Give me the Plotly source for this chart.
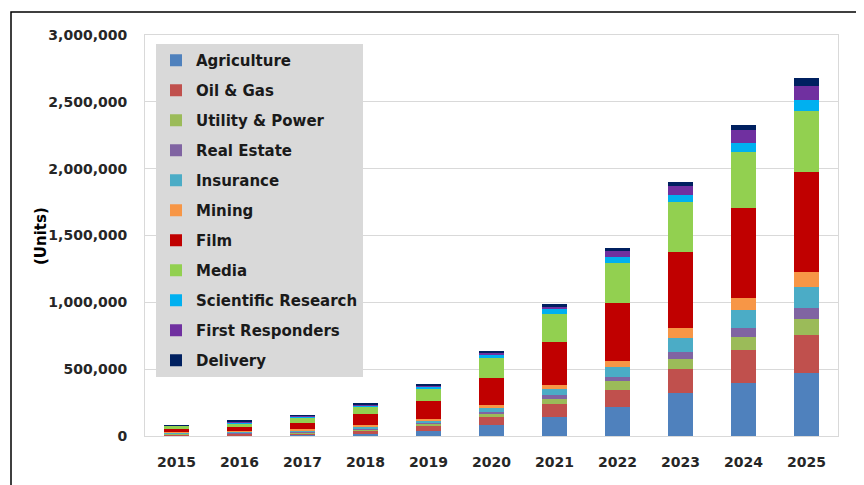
import plotly.graph_objects as go

years = ["2015", "2016", "2017", "2018", "2019", "2020", "2021", "2022", "2023", "2024", "2025"]

# values in thousands of units
agriculture = [3, 5, 8, 18, 40, 85, 142, 215, 319, 399, 469]
oil_gas = [10, 12, 14, 20, 35, 55, 95, 129, 180, 245, 284]
utility_power = [4, 5, 7, 10, 15, 25, 43, 67, 77, 100, 124]
real_estate = [2, 3, 5, 8, 10, 15, 25, 32, 55, 67, 78]
insurance = [4, 5, 8, 14, 18, 30, 50, 75, 105, 132, 162]
mining = [5, 7, 8, 12, 12, 20, 25, 45, 75, 88, 112]
film = [22, 28, 45, 82, 130, 207, 324, 434, 564, 673, 744]
media = [25, 30, 40, 55, 95, 145, 207, 299, 374, 419, 461]
scientific_research = [3, 6, 8, 10, 12, 22, 37, 45, 55, 72, 80]
first_responders = [2, 6, 7, 10, 12, 18, 20, 45, 70, 95, 107]
delivery = [2, 8, 7, 10, 10, 14, 22, 18, 30, 35, 55]

series_names = ["Agriculture", "Oil & Gas", "Utility & Power", "Real Estate", "Insurance",
                "Mining", "Film", "Media", "Scientific Research", "First Responders", "Delivery"]
series_values = [agriculture, oil_gas, utility_power, real_estate, insurance,
                 mining, film, media, scientific_research, first_responders, delivery]
series_colors = ["#4F81BD", "#C0504D", "#9BBB59", "#8064A2", "#4BACC6",
                 "#F79646", "#C00000", "#92D050", "#00B0F0", "#7030A0", "#002060"]

y_ticks = [0, 500000, 1000000, 1500000, 2000000, 2500000, 3000000]

FONT = "DejaVu Sans, Verdana, sans-serif"

fig = go.Figure()
for name, vals, col in zip(series_names, series_values, series_colors):
    fig.add_trace(go.Bar(
        x=years, y=[v * 1000 for v in vals], name=name,
        marker=dict(color=col, line=dict(width=0)),
        legendgroup=name,
    ))

# page has an 8px body margin; figure is sized so the plot area lands at page x 145-838, y 35-436
OFF = 8
W, H = 856, 477
L, R, T, B = 137, 26, 27, 49
pw = W - L - R
ph = H - T - B

def px_x(page_x):
    return (page_x - OFF - L) / pw

def px_y(page_y):
    return 1 - (page_y - OFF - T) / ph

fig.update_layout(
    width=W, height=H,
    margin=dict(l=L, r=R, t=T, b=B, autoexpand=False),
    barmode="stack",
    bargap=0.6,
    paper_bgcolor="white",
    plot_bgcolor="white",
    font=dict(family=FONT, size=14, color="#262626"),
    showlegend=True,
    legend=dict(
        x=px_x(156), y=px_y(44), xanchor="left", yanchor="top",
        bgcolor="#D9D9D9",
        traceorder="grouped",
        tracegroupgap=7.5,
        itemwidth=30,
        font=dict(family=FONT, size=15, color="#1a1a1a", weight="bold"),
        borderwidth=0,
    ),
    xaxis=dict(
        type="category",
        showgrid=False,
        showline=True, linecolor="#D9D9D9", linewidth=1, mirror=True,
        ticks="", ticklabelstandoff=13,
        tickfont=dict(family=FONT, size=14, color="#262626", weight="bold"),
    ),
    yaxis=dict(
        range=[0, 3000000],
        tickvals=y_ticks,
        tickformat=",d",
        showgrid=True, gridcolor="#D9D9D9", gridwidth=1,
        showline=True, linecolor="#D9D9D9", linewidth=1, mirror=True,
        zeroline=False,
        ticks="", ticklabelstandoff=14,
        tickfont=dict(family=FONT, size=14, color="#262626", weight="bold"),
    ),
    shapes=[dict(
        type="rect", xref="paper", yref="paper",
        x0=px_x(11), x1=px_x(858), y0=px_y(520), y1=px_y(12),
        line=dict(color="#000000", width=1.5), fillcolor="rgba(0,0,0,0)",
        layer="above",
    )],
    annotations=[dict(
        text="(Units)", xref="paper", yref="paper",
        x=px_x(30), y=px_y(236), showarrow=False, textangle=-90,
        font=dict(family=FONT, size=15, color="#000000", weight="bold"),
    )],
)

fig.write_html("out.html")
